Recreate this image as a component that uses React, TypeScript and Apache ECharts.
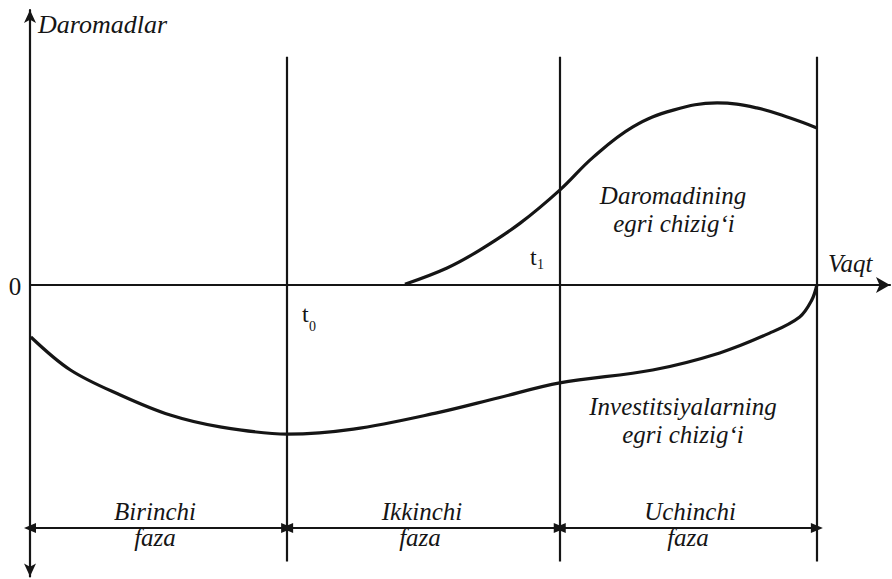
import React, { useEffect, useRef } from "react";
import * as echarts from "echarts";

// Time axis (0..100) and value axis (-106..100) in abstract units
const phaseBounds = [29.9, 61.6, 91.5];
const boundTop = 83;
const boundBottom = -100.5;
const phaseArrowY = -88.4;

const phaseNames = ["Birinchi", "Ikkinchi", "Uchinchi"];

// Daromadining egri chizig'i (revenue curve)
const revenueT = [43.6, 48.5, 52.3, 57.0, 61.6, 65.5, 70.1, 74.8, 79.9, 84.5, 88.4, 91.5];
const revenueV = [0.3, 6.2, 12.7, 22.5, 34.5, 46.5, 57.5, 63.6, 66.2, 64.4, 60.7, 57.1];

// Investitsiyalarning egri chizig'i (investment curve)
const investT = [0.1, 4.7, 10.5, 16.3, 22.1, 29.9, 37.6, 47.3, 54.5, 61.6, 72.4, 80.2, 86.0, 89.5, 90.9, 91.5];
const investV = [-18.9, -30.9, -40.0, -47.3, -51.6, -54.2, -52.4, -46.5, -41.0, -35.6, -30.9, -24.7, -17.5, -11.6, -5.5, 0];

const SERIF = '"Liberation Serif", "Times New Roman", serif';
const INK = "#151515";

function txt(
  text: string,
  x: number,
  baseline: number,
  align: string,
  size = 25,
  italic = true
) {
  return {
    type: "text",
    x,
    y: baseline - size * 0.34,
    silent: true,
    style: {
      text,
      fontFamily: SERIF,
      fontSize: size,
      fontStyle: italic ? "italic" : "normal",
      fill: INK,
      align,
      verticalAlign: "middle",
    },
  };
}

export default function App() {
  const ref = useRef<HTMLDivElement>(null);
  useEffect(() => {
    if (!ref.current) return;
    const chart = echarts.init(ref.current, null, { renderer: "svg" });

    const boundaryLines = phaseBounds.map((b) => [
      { coord: [b, boundTop] },
      { coord: [b, boundBottom] },
    ]);
    const starts = [0, ...phaseBounds.slice(0, -1)];
    const phaseArrows = phaseBounds.map((b, i) => [
      { coord: [starts[i], phaseArrowY] },
      { coord: [b, phaseArrowY] },
    ]);

    const graphics: any[] = [
      txt("Daromadlar", 38, 33, "left", 26),
      txt("0", 15, 295, "center", 25, false),
      txt("t", 302, 322, "left", 24, false),
      txt("0", 309, 331, "left", 14, false),
      txt("t", 530, 265, "left", 24, false),
      txt("1", 537, 269, "left", 14, false),
      txt("Daromadining", 673, 204, "center"),
      txt("egri chizig\u2018i", 674, 232, "center"),
      txt("Vaqt", 828, 272, "left"),
      txt("Investitsiyalarning", 683, 415, "center"),
      txt("egri chizig\u2018i", 683, 443, "center"),
    ];
    const phaseCenters = [155, 422, 690];
    const fazaCenters = [155, 420, 688];
    phaseNames.forEach((n, i) => {
      graphics.push(txt(n, phaseCenters[i], 520, "center"));
      graphics.push(txt("faza", fazaCenters[i], 546, "center"));
    });

    chart.setOption({
      animation: false,
      backgroundColor: "#ffffff",
      grid: { left: 30, right: 2, top: 10, bottom: 2.5, containLabel: false },
      xAxis: {
        type: "value",
        min: 0,
        max: 100,
        axisLine: {
          show: true,
          onZero: true,
          symbol: ["none", "arrow"],
          symbolSize: [12, 14],
          lineStyle: { color: INK, width: 2.2 },
        },
        axisTick: { show: false },
        axisLabel: { show: false },
        splitLine: { show: false },
      },
      yAxis: {
        type: "value",
        min: -106,
        max: 100,
        axisLine: {
          show: true,
          onZero: false,
          symbol: ["arrow", "arrow"],
          symbolSize: [9, 13],
          lineStyle: { color: INK, width: 2.2 },
        },
        axisTick: { show: false },
        axisLabel: { show: false },
        splitLine: { show: false },
      },
      series: [
        {
          type: "line",
          name: "Daromadining egri chizig'i",
          data: revenueT.map((t, i) => [t, revenueV[i]]),
          smooth: 0.4,
          showSymbol: false,
          lineStyle: { color: INK, width: 3.2 },
          z: 5,
        },
        {
          type: "line",
          name: "Investitsiyalarning egri chizig'i",
          data: investT.map((t, i) => [t, investV[i]]),
          smooth: 0.35,
          showSymbol: false,
          lineStyle: { color: INK, width: 3.2 },
          z: 5,
          markLine: {
            silent: true,
            symbol: ["none", "none"],
            label: { show: false },
            lineStyle: { color: INK, width: 2.2, type: "solid" },
            data: boundaryLines,
          },
        },
        {
          type: "line",
          data: [],
          markLine: {
            silent: true,
            symbol: ["triangle", "triangle"],
            symbolSize: [10, 12],
            label: { show: false },
            lineStyle: { color: INK, width: 1.8, type: "solid" },
            itemStyle: { color: INK },
            data: phaseArrows,
          },
        },
      ],
      graphic: graphics,
    });
    return () => chart.dispose();
  }, []);
  return (
    <div
      ref={ref}
      style={{ position: "fixed", left: 0, top: 0, width: 892, height: 579 }}
    />
  );
}
